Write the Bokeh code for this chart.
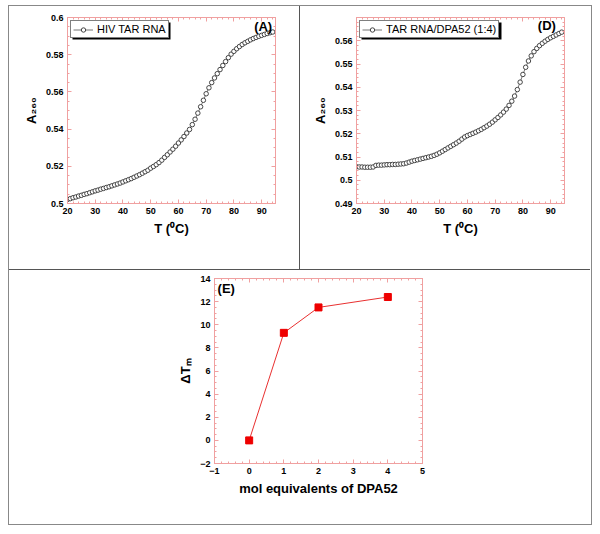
from bokeh.plotting import figure
from bokeh.models import (LinearAxis, SingleIntervalTicker, CustomJSTickFormatter,
                          CustomLabelingPolicy, Legend, LegendItem, Label, Range1d,
                          BoxAnnotation)
from bokeh.layouts import row, column
from bokeh.embed import file_html
from bokeh.resources import INLINE

# ---------------- data ----------------
temps = [20, 21, 22, 23, 24, 25, 26, 27, 28, 29, 30, 31, 32, 33, 34, 35, 36, 37, 38, 39,
         40, 41, 42, 43, 44, 45, 46, 47, 48, 49, 50, 51, 52, 53, 54, 55, 56, 57, 58, 59,
         60, 61, 62, 63, 64, 65, 66, 67, 68, 69, 70, 71, 72, 73, 74, 75, 76, 77, 78, 79,
         80, 81, 82, 83, 84, 85, 86, 87, 88, 89, 90, 91, 92, 93, 94]

a260_hiv_tar = [0.5022, 0.5026, 0.5031, 0.5035, 0.5040, 0.5044, 0.5049, 0.5053, 0.5058, 0.5063,
                0.5068, 0.5072, 0.5077, 0.5081, 0.5086, 0.5090, 0.5095, 0.5100, 0.5105, 0.5110,
                0.5116, 0.5122, 0.5128, 0.5134, 0.5141, 0.5148, 0.5155, 0.5163, 0.5171, 0.5179,
                0.5190, 0.5199, 0.5209, 0.5220, 0.5233, 0.5248, 0.5262, 0.5277, 0.5292, 0.5308,
                0.5325, 0.5342, 0.5360, 0.5379, 0.5398, 0.5424, 0.5453, 0.5486, 0.5520, 0.5555,
                0.5590, 0.5622, 0.5650, 0.5675, 0.5698, 0.5720, 0.5742, 0.5763, 0.5784, 0.5803,
                0.5818, 0.5832, 0.5844, 0.5855, 0.5864, 0.5872, 0.5880, 0.5887, 0.5893, 0.5899,
                0.5904, 0.5909, 0.5914, 0.5918, 0.5922]

a260_tar_dpa52 = [0.5058, 0.5057, 0.5057, 0.5056, 0.5056, 0.5056, 0.5057, 0.5064, 0.5065, 0.5065,
                  0.5066, 0.5067, 0.5067, 0.5068, 0.5068, 0.5069, 0.5070, 0.5071, 0.5074, 0.5078,
                  0.5082, 0.5085, 0.5088, 0.5091, 0.5094, 0.5097, 0.5100, 0.5103, 0.5107, 0.5112,
                  0.5118, 0.5125, 0.5132, 0.5139, 0.5146, 0.5153, 0.5160, 0.5168, 0.5177, 0.5186,
                  0.5192, 0.5197, 0.5202, 0.5207, 0.5213, 0.5219, 0.5226, 0.5233, 0.5241, 0.5250,
                  0.5260, 0.5270, 0.5281, 0.5293, 0.5306, 0.5322, 0.5340, 0.5362, 0.5390, 0.5422,
                  0.5455, 0.5486, 0.5513, 0.5535, 0.5553, 0.5567, 0.5579, 0.5589, 0.5598, 0.5606,
                  0.5613, 0.5619, 0.5625, 0.5631, 0.5637]

mol_equiv = [0, 1, 2, 4]
delta_tm = [0.0, 9.3, 11.5, 12.4]

# ---------------- styling ----------------
PINK = "#f0a0a0"
FONT = "Liberation Sans"
dec_fmt = CustomJSTickFormatter(code="return String(Number(tick.toFixed(3)));")
no_labels = CustomLabelingPolicy(code="return new Set();")


def style_axis(ax, ticker, show_labels=True, formatter=None):
    ax.ticker = ticker
    if formatter is not None:
        ax.formatter = formatter
    ax.axis_line_color = PINK
    ax.major_tick_line_color = PINK
    ax.minor_tick_line_color = PINK
    ax.major_tick_in = 4
    ax.major_tick_out = 0
    ax.minor_tick_in = 2
    ax.minor_tick_out = 0
    ax.major_label_text_font = FONT
    ax.major_label_text_font_style = "bold"
    ax.major_label_text_color = "black"
    if show_labels:
        ax.major_label_text_font_size = "9px"
        ax.major_label_standoff = 4
        ax.axis_label_text_font = FONT
        ax.axis_label_text_font_style = "bold"
        ax.axis_label_text_font_size = "13px"
        ax.axis_label_text_color = "black"
        ax.axis_label_standoff = 4
    else:
        ax.major_label_policy = no_labels
        ax.major_label_text_font_size = "1px"
        ax.major_label_standoff = 0


def make_fig(xr, yr, w, h, left, right, top, bottom, xt, yt, xlabel, ylabel, yfmt=None):
    p = figure(x_range=Range1d(*xr), y_range=Range1d(*yr),
               width=w, height=h,
               min_border_left=left, min_border_right=right,
               min_border_top=top, min_border_bottom=bottom,
               toolbar_location=None, output_backend="svg")
    p.grid.visible = False
    p.outline_line_color = PINK
    p.border_fill_color = "white"
    p.background_fill_color = "white"
    style_axis(p.xaxis[0], xt)
    style_axis(p.yaxis[0], yt, formatter=yfmt)
    p.xaxis[0].axis_label = xlabel
    p.yaxis[0].axis_label = ylabel
    top_ax = LinearAxis()
    right_ax = LinearAxis()
    style_axis(top_ax, xt, show_labels=False)
    style_axis(right_ax, yt, show_labels=False)
    p.add_layout(top_ax, "above")
    p.add_layout(right_ax, "right")
    return p


def add_legend(p, renderers, label, shadow):
    l, r, t, b = shadow
    p.add_layout(BoxAnnotation(left=l, right=r, top=t, bottom=b, fill_color="black",
                               fill_alpha=1.0, line_color=None))
    leg = Legend(items=[LegendItem(label=label, renderers=renderers)],
                 location="top_left", margin=3, padding=2, spacing=0,
                 label_height=11, glyph_height=11, glyph_width=20, label_standoff=4,
                 label_text_font=FONT, label_text_font_size="11px", label_text_color="black",
                 border_line_color="black", border_line_width=1,
                 background_fill_color="white", background_fill_alpha=1.0)
    p.add_layout(leg, "center")


def melt_curve(p, x, y, label, shadow):
    r1 = p.line(x, y, line_color="#777777", line_width=1)
    r2 = p.scatter(x, y, marker="circle", size=4.5, fill_color="white",
                   line_color="#333333", line_width=0.9)
    add_legend(p, [r1, r2], label, shadow)


def panel_tag(p, x, y, text, align):
    p.add_layout(Label(x=x, y=y, text=text, text_align=align, text_baseline="middle",
                       text_font=FONT, text_font_style="bold", text_font_size="13px",
                       text_color="black"))


# Panel A
pA = make_fig((20, 95), (0.5, 0.6), 291, 264, 58, 25, 11, 67,
              SingleIntervalTicker(interval=10, num_minor_ticks=5),
              SingleIntervalTicker(interval=0.02, num_minor_ticks=4),
              "T (\u2070C)", "A\u2082\u2086\u2080", yfmt=dec_fmt)
melt_curve(pA, temps, a260_hiv_tar, "HIV TAR RNA", (21.8, 57.14, 0.59731, 0.58817))
panel_tag(pA, 93.8, 0.5952, "(A)", "right")

# Panel D
pD = make_fig((20, 95), (0.49, 0.57), 290, 264, 56, 26, 11, 67,
              SingleIntervalTicker(interval=10, num_minor_ticks=5),
              SingleIntervalTicker(interval=0.01, num_minor_ticks=5),
              "T (\u2070C)", "A\u2082\u2086\u2080", yfmt=dec_fmt)
melt_curve(pD, temps, a260_tar_dpa52, "TAR RNA/DPA52 (1:4)", (21.8, 72.28, 0.56785, 0.56054))
panel_tag(pD, 91.9, 0.5666, "(D)", "right")

# Panel E
pE = make_fig((-1, 5), (-2, 14), 582, 253, 205, 169, 8, 60,
              SingleIntervalTicker(interval=1, num_minor_ticks=5),
              SingleIntervalTicker(interval=2, num_minor_ticks=4),
              "mol equivalents of DPA52", "\u0394T\u2098")
pE.line(mol_equiv, delta_tm, line_color="#e83030", line_width=1)
pE.scatter(mol_equiv, delta_tm, marker="square", size=7, fill_color="#ee0000",
           line_color="#ee0000")
panel_tag(pE, -0.91, 13.1, "(E)", "left")

pA.styles = {"border-right": "1px solid #555555", "border-bottom": "1px solid #555555"}
pD.styles = {"border-bottom": "1px solid #555555"}

layout = column(row(pA, pD), pE,
                styles={"border": "1px solid #888888", "margin-left": "8px",
                        "margin-top": "5px", "width": "584px", "height": "520px",
                        "box-sizing": "border-box", "overflow": "hidden"})

with open("out.html", "w") as f:
    f.write(file_html(layout, INLINE))
